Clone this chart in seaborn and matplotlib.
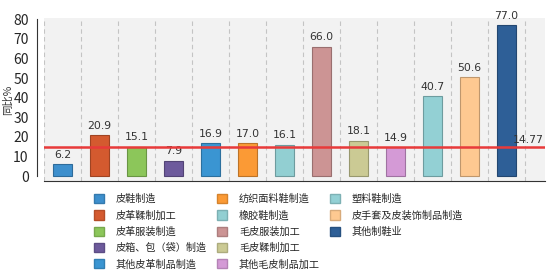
import numpy as np
import pandas as pd
import matplotlib
matplotlib.use("Agg")
import matplotlib.pyplot as plt
import matplotlib.colors as mcolors
from matplotlib.patches import Patch
import seaborn as sns

# 数据
categories = ["皮鞋制造", "皮革鞣制加工", "皮革服装制造", "皮箱、包（袋）制造", "其他皮革制品制造",
              "纺织面料鞋制造", "橡胶鞋制造", "毛皮服装加工", "毛皮鞣制加工", "其他毛皮制品加工",
              "塑料鞋制造", "皮手套及皮装饰制品制造", "其他制鞋业"]
values = [6.2, 20.9, 15.1, 7.9, 16.9, 17.0, 16.1, 66.0, 18.1, 14.9, 40.7, 50.6, 77.0]
colors = ["#3d8fcd", "#d45a2f", "#8cc65a", "#6d5a9c", "#3a95d2", "#fb9a35", "#92cfd2",
          "#cc9494", "#cbca94", "#d49ad6", "#93d0d4", "#fec991", "#2e5f97"]
avg_value = 14.77
yticks = [0, 10, 20, 30, 40, 50, 60, 70, 80]

df = pd.DataFrame({"cat": categories, "val": values})

sns.set_style("white")
plt.rcParams["font.family"] = ["Noto Sans CJK SC", "DejaVu Sans"]

fig = plt.figure(figsize=(5.5, 2.79), dpi=100)
ax = fig.add_axes([0.08, 0.351, 0.911, 0.584])
ax.set_facecolor("#f2f2f2")

def darker(c, f=0.75):
    r, g, b = mcolors.to_rgb(c)
    return (r * f, g * f, b * f)

sns.barplot(data=df, x="cat", y="val", hue="cat", palette=colors, legend=False,
            width=0.52, ax=ax, saturation=1)
for patch, c in zip(ax.patches, colors):
    patch.set_edgecolor(darker(c))
    patch.set_linewidth(0.8)

for cont in ax.containers:
    ax.bar_label(cont, fmt="%.1f", padding=3, fontsize=7.8, color="#333333",
                 family="DejaVu Sans")

ax.axhline(avg_value, color="#e83a3a", lw=1.8, zorder=3)
ax.text(13.0, avg_value + 1.2, f"{avg_value:.2f}", ha="right", va="bottom",
        fontsize=7.8, color="#333333", family="DejaVu Sans")

ax.set_xlim(-0.5, 13.04)
ax.set_ylim(-2.5, 80.5)
ax.set_yticks(yticks)
ax.set_yticklabels([str(t) for t in yticks], fontsize=8, color="#444444", family="DejaVu Sans")
ax.set_xticks(np.arange(-0.5, 13, 1.0))
ax.set_xticklabels([])
ax.tick_params(axis="x", length=4, width=0.8, color="#888888", direction="out")
ax.tick_params(axis="y", length=4, width=0.8, color="#888888", direction="out", pad=2)
ax.xaxis.grid(True, ls=(0, (4, 3)), color="#c4c4c4", lw=0.8)
ax.yaxis.grid(False)
ax.set_axisbelow(True)

for s in ["top", "right"]:
    ax.spines[s].set_visible(False)
ax.spines["left"].set_position(("outward", 5))
ax.spines["left"].set_bounds(0, 80)
ax.spines["left"].set_color("#333333")
ax.spines["bottom"].set_color("#333333")
ax.set_xlabel("")
ax.set_ylabel("同比%", fontsize=7.5, color="#333333")
ax.yaxis.set_label_coords(-0.062, 0.5)

handles = [Patch(facecolor=c, edgecolor=darker(c, 0.85)) for c in colors]
labels = list(categories)
handles += [Patch(alpha=0), Patch(alpha=0)]
labels += ["", ""]
fig.legend(handles, labels, ncol=3, loc="upper left", bbox_to_anchor=(0.17, 0.305),
           frameon=False, fontsize=7.3, handlelength=1.0, handleheight=1.0,
           handletextpad=1.2, columnspacing=0.95, labelspacing=0.6, borderpad=0,
           borderaxespad=0)

fig.savefig("out.png", dpi=100)
